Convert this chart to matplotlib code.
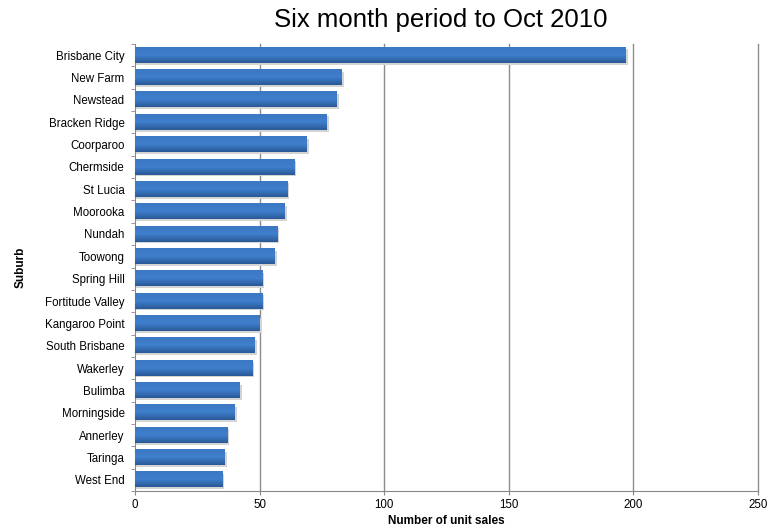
import matplotlib.pyplot as plt
import numpy as np
from matplotlib.colors import LinearSegmentedColormap

plt.rcParams['font.family'] = ['Liberation Sans', 'DejaVu Sans']

suburbs = ['Brisbane City', 'New Farm', 'Newstead', 'Bracken Ridge', 'Coorparoo',
           'Chermside', 'St Lucia', 'Moorooka', 'Nundah', 'Toowong', 'Spring Hill',
           'Fortitude Valley', 'Kangaroo Point', 'South Brisbane', 'Wakerley',
           'Bulimba', 'Morningside', 'Annerley', 'Taringa', 'West End']
sales = [197, 83, 81, 77, 69, 64, 61, 60, 57, 56, 51, 51, 50, 48, 47, 42, 40, 37, 36, 35]
xticks = [0, 50, 100, 150, 200, 250]

fig = plt.figure(figsize=(7.74, 5.30), dpi=100)
ax = fig.add_axes([135/774, (530-491)/530, (758-135)/774, (491-44)/530])

n = len(suburbs)
ypos = np.arange(n)[::-1]
h = 0.68
cmap = LinearSegmentedColormap.from_list('bar', ['#2a5a98', '#3f7fcc', '#3b78c4'])
grad = np.linspace(0, 1, 32).reshape(-1, 1)

for y, v in zip(ypos, sales):
    # shadow
    ax.barh(y - 0.08, v + 0.8, height=h, color='#d4d4d4', zorder=2)
    ax.imshow(grad, cmap=cmap, aspect='auto', origin='lower',
              extent=(0, v, y - h/2, y + h/2), zorder=3)

ax.set_xlim(0, 250)
ax.set_ylim(-0.5, n - 0.5)
ax.set_xticks(xticks)
ax.set_yticks(ypos)
ax.set_yticklabels(suburbs)
ax.set_yticks(np.arange(-0.5, n, 1), minor=True)
ax.tick_params(axis='y', which='major', length=0, labelsize=8.3, pad=7.5)
ax.tick_params(axis='y', which='minor', length=3, color='#888888', direction='out')
ax.tick_params(axis='x', length=3, color='#888888', labelsize=8.3, pad=2.5)
for xv in xticks[1:]:
    ax.axvline(xv, color='#8c8c8c', linewidth=1, zorder=1, clip_on=False)
for s in ['top', 'right']:
    ax.spines[s].set_visible(False)
for s in ['left', 'bottom']:
    ax.spines[s].set_color('#888888')

ax.set_xlabel('Number of unit sales', fontsize=8.5, fontweight='bold', labelpad=3)
ax.set_ylabel('Suburb', fontsize=8.5, fontweight='bold', labelpad=13)
fig.text(0.570, 0.962, 'Six month period to Oct 2010', ha='center', va='center', fontsize=18.5)

fig.savefig('out.png', dpi=100)
